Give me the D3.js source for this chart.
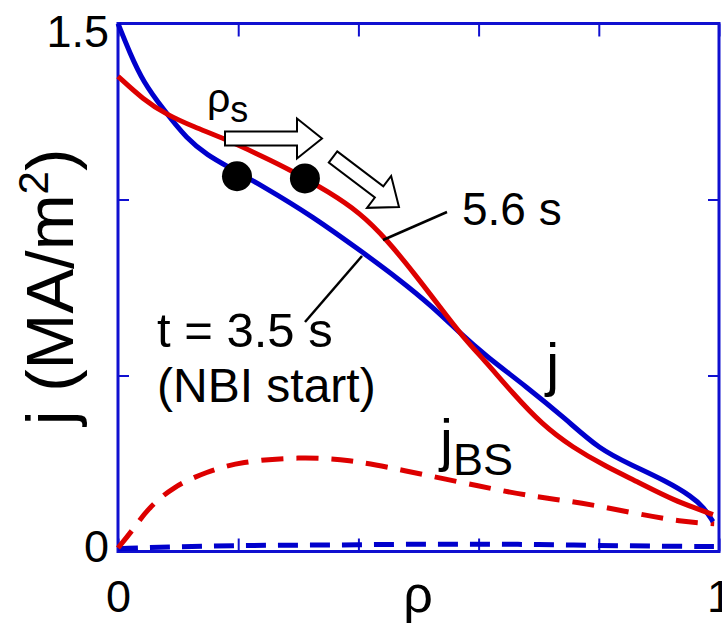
<!DOCTYPE html>
<html><head><meta charset="utf-8">
<script src="https://cdn.jsdelivr.net/npm/d3@7"></script>
<style>html,body{margin:0;padding:0;background:#fff;}svg{display:block;font-family:Arial,"Liberation Sans",sans-serif;}</style>
</head><body>
<svg id="c" width="722" height="625"></svg>
<script>
// ---- data ----
const rhoBlue = [0,0.020,0.042,0.075,0.115,0.150,0.181,0.241,0.324,0.407,0.468,0.523,0.568,0.613,0.679,0.746,0.801,0.855,0.912,0.955,0.975,0.990];
const jBlue   = [1.50,1.415,1.334,1.257,1.171,1.125,1.095,1.038,0.952,0.850,0.773,0.696,0.622,0.554,0.469,0.375,0.290,0.245,0.200,0.156,0.125,0.085];
const rhoRed  = [0,0.042,0.081,0.125,0.181,0.241,0.286,0.352,0.402,0.447,0.497,0.535,0.573,0.613,0.656,0.706,0.756,0.812,0.867,0.922,0.990];
const jRed    = [1.350,1.284,1.241,1.207,1.170,1.122,1.085,1.020,0.963,0.887,0.781,0.696,0.611,0.537,0.451,0.360,0.296,0.241,0.196,0.147,0.105];
const rhoBSRed = [0,0.025,0.048,0.091,0.148,0.203,0.302,0.385,0.468,0.606,0.689,0.772,0.855,0.939,0.992];
const jBSRed   = [0.010,0.062,0.119,0.184,0.227,0.255,0.269,0.261,0.233,0.184,0.156,0.139,0.110,0.084,0.079];
const rhoBSBlue = [0,0.1,0.2,0.3,0.4,0.5,0.6,0.7,0.8,0.9,1.0];
const jBSBlue   = [0.008,0.014,0.017,0.018,0.019,0.021,0.021,0.020,0.017,0.015,0.014];
const rhoS = [0.198, 0.311];
const jS   = [1.066, 1.060];
const xTicks = [0,0.2,0.4,0.6,0.8,1];
const yTicks = [0,0.5,1,1.5];
const xTickLabels = {0:"0",1:"1"};
const yTickLabels = {0:"0",1.5:"1.5"};

// ---- layout ----
const L=118, R=719, T=23.5, B=551.5;
const x = d3.scaleLinear().domain([0,1]).range([L,R]);
const y = d3.scaleLinear().domain([0,1.5]).range([B,T]);
const svg = d3.select("#c");
const BLUE="#0000cc", RED="#dd0000";

const line = d3.line().x(d=>x(d[0])).y(d=>y(d[1])).curve(d3.curveBasis);
const zip=(a,b)=>a.map((v,i)=>[v,b[i]]);

// frame + ticks
const axCol="#1010d0";
function styleAxis(g){
  g.select(".domain").remove();
  g.selectAll(".tick line").attr("stroke",axCol).attr("stroke-width",2);
  g.selectAll(".tick text").attr("fill","#000");
}
svg.append("g").attr("transform",`translate(0,${B})`)
  .call(d3.axisBottom(x).tickValues(xTicks).tickSize(-13).tickPadding(29).tickFormat(d=>xTickLabels[d]||""))
  .call(styleAxis).call(g=>g.selectAll(".tick text").attr("font-size",45).attr("dy","0.71em"));
svg.append("g").attr("transform",`translate(0,${T})`)
  .call(d3.axisTop(x).tickValues(xTicks).tickSize(-13).tickFormat(""))
  .call(styleAxis);
svg.append("g").attr("transform",`translate(${L},0)`)
  .call(d3.axisLeft(y).tickValues(yTicks).tickSize(-11).tickPadding(9).tickFormat(d=>yTickLabels[d]||""))
  .call(styleAxis).call(g=>g.selectAll(".tick text").attr("font-size",45).attr("dy",d=>d===0?"0.22em":"0.52em"));
svg.append("g").attr("transform",`translate(${R},0)`)
  .call(d3.axisRight(y).tickValues(yTicks).tickSize(-11).tickFormat(""))
  .call(styleAxis);
svg.append("rect").attr("x",L).attr("y",T).attr("width",R-L).attr("height",B-T)
  .attr("fill","none").attr("stroke",axCol).attr("stroke-width",3);

// curves
svg.append("path").datum(zip(rhoBSBlue,jBSBlue)).attr("d",line).attr("fill","none")
  .attr("stroke",BLUE).attr("stroke-width",5).attr("stroke-dasharray","20,12");
svg.append("path").datum(zip(rhoBSRed,jBSRed)).attr("d",line).attr("fill","none")
  .attr("stroke",RED).attr("stroke-width",5).attr("stroke-dasharray","22,13");
svg.append("path").datum(zip(rhoBlue,jBlue)).attr("d",line).attr("fill","none")
  .attr("stroke",BLUE).attr("stroke-width",5).attr("stroke-linejoin","round");
svg.append("path").datum(zip(rhoRed,jRed)).attr("d",line).attr("fill","none")
  .attr("stroke",RED).attr("stroke-width",5).attr("stroke-linejoin","round");

// dots
svg.selectAll("circle.s").data(zip(rhoS,jS)).enter().append("circle")
  .attr("cx",d=>x(d[0])).attr("cy",d=>y(d[1])).attr("r",15).attr("fill","#000");

// hollow arrows
function arrow(x0,y0,x1,y1){
  const len=Math.hypot(x1-x0,y1-y0), ang=Math.atan2(y1-y0,x1-x0)*180/Math.PI;
  const bw=7, hw=20, hl=25;
  const pts=[[0,-bw],[len-hl,-bw],[len-hl,-hw],[len,0],[len-hl,hw],[len-hl,bw],[0,bw]];
  svg.append("polygon").attr("points",pts.map(p=>p.join(",")).join(" "))
    .attr("transform",`translate(${x0},${y0}) rotate(${ang})`)
    .attr("fill","#fff").attr("stroke","#000").attr("stroke-width",2);
}
arrow(225,138.5,322,138.5);
arrow(333,157,399,207);

// leader lines
svg.append("line").attr("x1",447).attr("y1",212).attr("x2",383).attr("y2",240).attr("stroke","#000").attr("stroke-width",2.5);
svg.append("line").attr("x1",362).attr("y1",256).attr("x2",305).attr("y2",322).attr("stroke","#000").attr("stroke-width",2.5);

// texts
const t=(xx,yy,s,fs,anchor)=>svg.append("text").attr("x",xx).attr("y",yy).attr("font-size",fs).attr("text-anchor",anchor||"start").attr("fill","#000").text(s);
t(462,225,"5.6 s",46);
t(157,347,"t = 3.5 s",49);
t(157,402,"(NBI start)",48);
t(546,385,"j",60);
const bs=svg.append("text").attr("x",440).attr("y",460).attr("font-size",58).attr("fill","#000");
bs.append("tspan").text("j");
bs.append("tspan").attr("font-size",45).attr("dy",15).text("BS");
const rs=svg.append("text").attr("x",207).attr("y",112).attr("font-size",41).attr("fill","#000");
rs.append("tspan").text("ρ");
rs.append("tspan").attr("font-size",36).attr("dy",10).text("s");
t(418,612,"ρ",52,"middle");
const yl=svg.append("text").attr("transform","translate(73,287) rotate(-90)").attr("text-anchor","middle").attr("font-size",67).attr("fill","#000");
yl.append("tspan").text("j (MA/m");
yl.append("tspan").attr("font-size",42).attr("dy",-25).text("2");
yl.append("tspan").attr("dy",25).text(")");
</script>
</body></html>
